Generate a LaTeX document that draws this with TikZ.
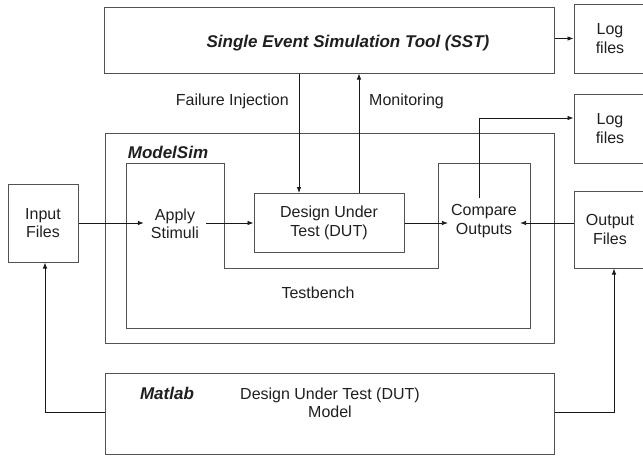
\documentclass[tikz,border=0pt]{standalone}
\usepackage{fontspec}
\setmainfont{Liberation Sans}
\usetikzlibrary{arrows.meta}
\begin{document}
\begin{tikzpicture}[x=1pt,y=-1pt,
  lbl/.style={font=\fontsize{16}{18.5}\selectfont, text=black!88, align=center},
  bilbl/.style={font=\fontsize{17}{20}\selectfont\bfseries\itshape, text=black!88},
  box/.style={lbl, draw=black!68, line width=1pt, inner sep=0pt},
  txt/.style={lbl, inner ysep=5pt},
  arr/.style={draw=black!90, line width=0.8pt, -{Latex[length=6pt,width=4.5pt]}},
  ln/.style={draw=black!90, line width=0.8pt}]
\useasboundingbox (0,0) rectangle (643,458);
% frames
\node[box, minimum width=450pt, minimum height=66pt] (sst) at (329,40) {};
\node[bilbl] (sstlbl) at (348,43) {Single Event Simulation Tool (SST)};
\node[box, minimum width=72pt, minimum height=69pt] (log1) at (610,38.5) {Log\\files};
\node[box, minimum width=72pt, minimum height=69pt] (log2) at (610,128.5) {Log\\files};
\node[box, minimum width=72pt, minimum height=77pt] (outf) at (610,229.5) {Output\\Files};
\node[box, minimum width=70pt, minimum height=78pt] (inf) at (43,223) {Input\\Files};
\node[box, minimum width=449pt, minimum height=210pt] (msim) at (329.5,238) {};
\node[bilbl] (msimlbl) at (168,152) {ModelSim};
% testbench outline
\draw[draw=black!68, line width=1pt] (126,163) -- (224,163) -- (224,268) -- (438,268)
  -- (438,163) -- (530,163) -- (530,328) -- (126,328) -- cycle;
\node[lbl] (tb) at (318,293) {Testbench};
\node[box, minimum width=150pt, minimum height=59pt] (dut) at (329,223) {Design Under\\Test (DUT)};
\node[txt, inner xsep=7pt] (apply) at (175,224) {Apply\\Stimuli};
\node[txt, inner xsep=3pt, inner ysep=6pt] (cmp) at (484,221) {Compare\\Outputs};
\node[box, minimum width=449pt, minimum height=81pt] (mat) at (329.5,413.5) {};
\node[bilbl] (matlbl) at (167,393) {Matlab};
\node[lbl] (matmodel) at (330,403) {Design Under Test (DUT)\\Model};
% labels
\node[lbl, anchor=east, inner sep=0pt] (fi) at (289,101) {Failure Injection};
\node[lbl, anchor=west, inner sep=0pt] (mon) at (369,101) {Monitoring};
% connectors
\draw[arr] (log1.west -| sst.east) -- (log1.west);
\draw[arr] ([xshift=-30pt]dut.north |- sst.south) -- ([xshift=-30pt]dut.north);
\draw[arr] ([xshift=30pt]dut.north) -- ([xshift=30pt]dut.north |- sst.south);
\draw[arr] (inf.east) -- (apply.west |- inf.east);
\draw[arr] (apply.east |- dut.west) -- (dut.west);
\draw[arr] (dut.east) -- (dut.east -| cmp.west);
\draw[arr] (outf.west |- dut.east) -- (cmp.east |- dut.east);
\draw[arr] ([xshift=-5pt]cmp.north) |- ([yshift=10.5pt]log2.west);
\draw[arr] ([yshift=1.5pt]mat.west) -| ([xshift=2pt]inf.south);
\draw[arr] ([yshift=1.5pt]mat.east) -| ([xshift=4pt]outf.south);
\end{tikzpicture}
\end{document}
